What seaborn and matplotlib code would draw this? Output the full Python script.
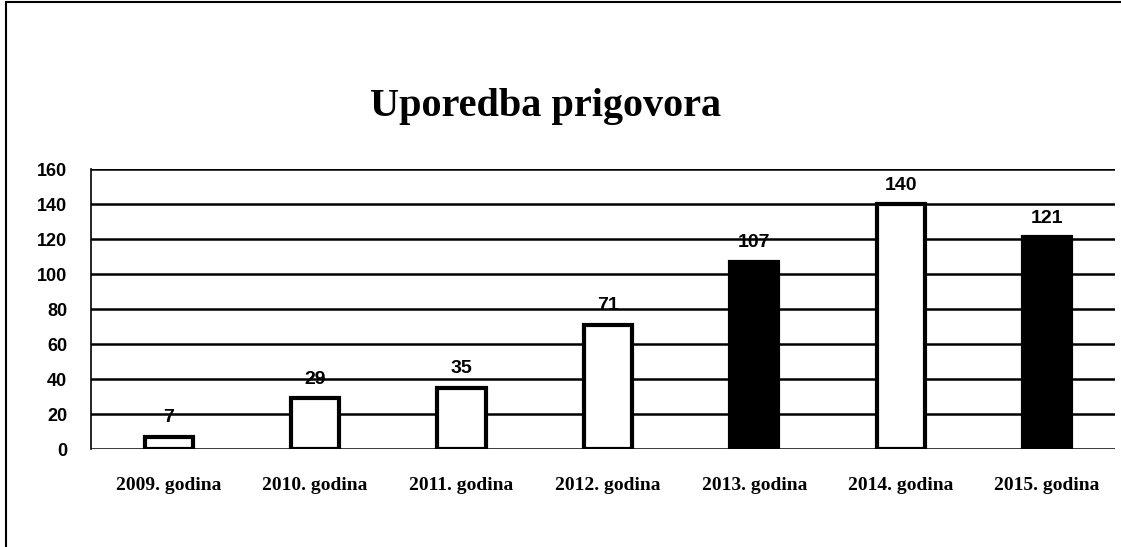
import matplotlib
matplotlib.use("Agg")
import matplotlib.pyplot as plt
import seaborn as sns
import pandas as pd

# Podaci
godine = ["2009. godina", "2010. godina", "2011. godina", "2012. godina",
          "2013. godina", "2014. godina", "2015. godina"]
prigovori = [7, 29, 35, 71, 107, 140, 121]
boje = ["white", "white", "white", "white", "black", "white", "black"]
y_ticks = [0, 20, 40, 60, 80, 100, 120, 140, 160]

df = pd.DataFrame({"godina": godine, "prigovori": prigovori})

sns.set_style("white")
plt.rcParams['font.family'] = ['Liberation Sans', 'DejaVu Sans']

fig = plt.figure(figsize=(11.21, 5.47), dpi=100)
ax = fig.add_axes([0.081, 0.179, 0.914, 0.512])

sns.barplot(data=df, x="godina", y="prigovori", hue="godina",
            palette=dict(zip(godine, boje)), legend=False, width=0.33,
            edgecolor="black", linewidth=3, ax=ax, zorder=3)

ax.set_ylim(0, 160)
ax.set_xlim(-0.533, 6.467)
ax.set_yticks(y_ticks)
ax.yaxis.grid(True, color="black", linewidth=1.8, zorder=0)
ax.set_axisbelow(True)
for s in ["top", "right", "bottom"]:
    ax.spines[s].set_visible(False)
ax.spines["left"].set_color("black")
ax.spines["left"].set_linewidth(1.2)
ax.tick_params(axis="both", length=0)
ax.tick_params(axis="y", pad=17)
ax.tick_params(axis="x", pad=20)
for lbl in ax.get_yticklabels():
    lbl.set_fontweight("bold")
    lbl.set_fontsize(13)
    lbl.set_color("black")
for lbl in ax.get_xticklabels():
    lbl.set_family("Liberation Serif")
    lbl.set_fontweight("bold")
    lbl.set_fontsize(14)
    lbl.set_color("black")
ax.set_xlabel("")
ax.set_ylabel("")

# Oznake vrijednosti
for i, v in enumerate(prigovori):
    ax.text(i, v + 6, str(v), ha="center", va="bottom", fontsize=14,
            fontweight="bold", color="black", zorder=4)

fig.suptitle("Uporedba prigovora", x=0.487, y=0.84, fontsize=29,
             fontweight="bold", family="Liberation Serif", color="black")

# Okvir (lijevo i gore)
fig.add_artist(plt.Line2D([0.005, 0.005], [0, 0.997], color="black", lw=1.5))
fig.add_artist(plt.Line2D([0.005, 1.0], [0.997, 0.997], color="black", lw=1.5))

plt.savefig("out.png", dpi=100)
